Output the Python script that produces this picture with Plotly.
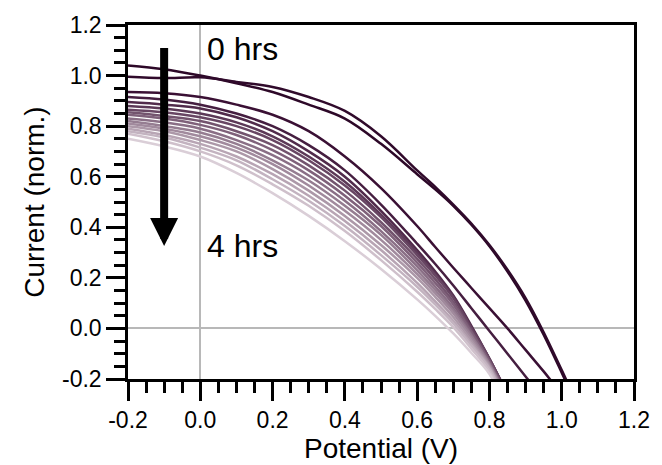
import plotly.graph_objects as go
from plotly.colors import n_colors

# Potential grid (V)
potential = [-0.2, -0.1, 0.0, 0.1, 0.2, 0.3, 0.4, 0.5, 0.6, 0.65, 0.7, 0.75, 0.8, 0.85, 0.9, 0.95, 1.0, 1.05]

# Normalised current, one list per time step (0 hrs -> 4 hrs, every 15 min)
t_000 = [1.04, 1.025, 1.0, 0.97, 0.935, 0.885, 0.83, 0.73, 0.61, 0.55, 0.485, 0.41, 0.325, 0.225, 0.11, -0.025, -0.175, -0.33]
t_015 = [0.995, 0.99, 0.993, 0.975, 0.955, 0.915, 0.86, 0.76, 0.625, 0.56, 0.49, 0.415, 0.33, 0.232, 0.12, -0.015, -0.165, -0.32]
t_030 = [0.935, 0.93, 0.915, 0.885, 0.845, 0.78, 0.68, 0.555, 0.405, 0.322, 0.24, 0.16, 0.08, 0.0, -0.085, -0.17, -0.26, -0.35]
t_045 = [0.915, 0.905, 0.885, 0.85, 0.8, 0.725, 0.625, 0.49, 0.335, 0.255, 0.17, 0.08, -0.01, -0.1, -0.19, -0.28, -0.37, -0.46]
t_060 = [0.895, 0.885, 0.87, 0.835, 0.78, 0.70, 0.60, 0.465, 0.31, 0.225, 0.13, 0.01, -0.12, -0.26, -0.40, -0.54, -0.68, -0.82]
t_075 = [0.88, 0.87, 0.85, 0.815, 0.76, 0.68, 0.58, 0.45, 0.30, 0.215, 0.125, 0.005, -0.12, -0.26, -0.40, -0.54, -0.68, -0.82]
t_090 = [0.865, 0.855, 0.835, 0.80, 0.745, 0.665, 0.565, 0.44, 0.29, 0.21, 0.12, 0.0, -0.12, -0.26, -0.40, -0.54, -0.68, -0.82]
t_105 = [0.855, 0.84, 0.82, 0.78, 0.725, 0.645, 0.545, 0.42, 0.275, 0.195, 0.105, -0.01, -0.13, -0.27, -0.41, -0.55, -0.69, -0.83]
t_120 = [0.845, 0.83, 0.805, 0.765, 0.705, 0.625, 0.525, 0.405, 0.26, 0.18, 0.095, -0.015, -0.13, -0.27, -0.41, -0.55, -0.69, -0.83]
t_135 = [0.83, 0.815, 0.79, 0.745, 0.685, 0.605, 0.505, 0.385, 0.245, 0.165, 0.08, -0.025, -0.14, -0.28, -0.42, -0.56, -0.70, -0.84]
t_150 = [0.82, 0.80, 0.775, 0.73, 0.665, 0.585, 0.485, 0.37, 0.23, 0.152, 0.07, -0.03, -0.14, -0.28, -0.42, -0.56, -0.70, -0.84]
t_165 = [0.81, 0.79, 0.76, 0.715, 0.65, 0.565, 0.465, 0.35, 0.215, 0.14, 0.06, -0.04, -0.145, -0.285, -0.43, -0.57, -0.71, -0.85]
t_180 = [0.80, 0.78, 0.745, 0.70, 0.63, 0.545, 0.445, 0.33, 0.20, 0.125, 0.045, -0.05, -0.15, -0.29, -0.43, -0.57, -0.71, -0.85]
t_195 = [0.79, 0.765, 0.73, 0.68, 0.61, 0.525, 0.425, 0.31, 0.18, 0.107, 0.03, -0.06, -0.155, -0.30, -0.44, -0.58, -0.72, -0.86]
t_210 = [0.78, 0.755, 0.715, 0.665, 0.59, 0.505, 0.405, 0.29, 0.165, 0.095, 0.02, -0.068, -0.16, -0.30, -0.44, -0.58, -0.72, -0.86]
t_225 = [0.77, 0.74, 0.70, 0.645, 0.57, 0.485, 0.385, 0.27, 0.145, 0.077, 0.005, -0.08, -0.17, -0.31, -0.45, -0.59, -0.73, -0.87]
t_240 = [0.75, 0.72, 0.68, 0.615, 0.535, 0.445, 0.345, 0.235, 0.115, 0.05, -0.02, -0.097, -0.18, -0.32, -0.46, -0.60, -0.74, -0.88]

series = [t_000, t_015, t_030, t_045, t_060, t_075, t_090, t_105, t_120,
          t_135, t_150, t_165, t_180, t_195, t_210, t_225, t_240]

tick_vals = [-0.2, 0.0, 0.2, 0.4, 0.6, 0.8, 1.0, 1.2]
tick_text = ['-0.2', '0.0', '0.2', '0.4', '0.6', '0.8', '1.0', '1.2']

colors = ['rgb(45,8,40)', 'rgb(48,10,43)'] + n_colors('rgb(58,16,52)', 'rgb(218,206,215)', len(series) - 2, colortype='rgb')

FONT = "Liberation Sans, Arial, sans-serif"

fig = go.Figure()
for ys, c in zip(series, colors):
    fig.add_trace(go.Scatter(x=potential, y=ys, mode='lines',
                             line=dict(color=c, width=2.5, shape='spline', smoothing=1.0),
                             showlegend=False, hoverinfo='skip'))

axis_common = dict(
    showgrid=False, showline=True, linecolor='black', linewidth=2.5, mirror=True,
    ticks='outside', ticklen=19, tickwidth=2.5, tickcolor='black',
    minor=dict(dtick=0.05, ticks='outside', ticklen=11, tickwidth=2.5, tickcolor='black'),
    zeroline=True, zerolinecolor='#b8b8b8', zerolinewidth=2,
    tickfont=dict(family=FONT, size=23, color='black'),
    tickvals=tick_vals, ticktext=tick_text,
    range=[-0.2, 1.2],
)

fig.update_layout(
    width=662, height=465,
    margin=dict(l=128, r=18, t=21, b=82),
    paper_bgcolor='white', plot_bgcolor='white',
    font=dict(family=FONT, color='black'),
    xaxis=dict(title=dict(text='Potential (V)', font=dict(family=FONT, size=28), standoff=0),
               **axis_common),
    yaxis=dict(title=dict(text='Current (norm.)', font=dict(family=FONT, size=28), standoff=10),
               **axis_common),
    annotations=[
        dict(x=-0.1, y=0.326, ax=-0.1, ay=1.115, xref='x', yref='y', axref='x', ayref='y',
             showarrow=True, arrowhead=2, arrowsize=0.7, arrowwidth=8, arrowcolor='black', text=''),
        dict(x=0.012, y=1.107, xref='x', yref='y', text='0 hrs', showarrow=False,
             xanchor='left', yanchor='middle', font=dict(family=FONT, size=32, color='black')),
        dict(x=0.012, y=0.326, xref='x', yref='y', text='4 hrs', showarrow=False,
             xanchor='left', yanchor='middle', font=dict(family=FONT, size=32, color='black')),
    ],
)

fig.write_html("out.html")
